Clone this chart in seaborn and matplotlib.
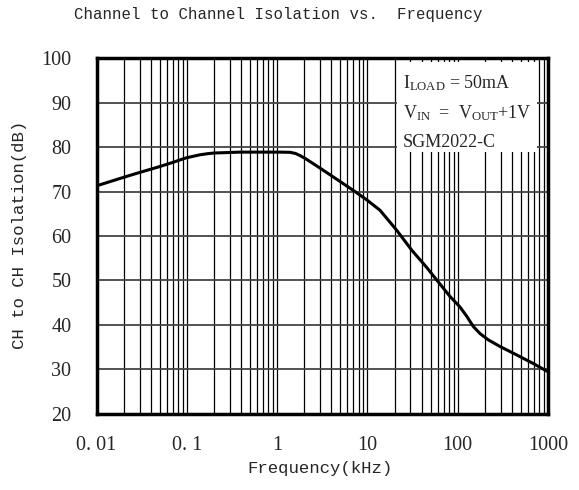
import matplotlib
matplotlib.use("Agg")
import matplotlib.pyplot as plt
import seaborn as sns
import pandas as pd
import numpy as np
from matplotlib.ticker import LogLocator, FixedLocator, NullFormatter
from matplotlib.patches import Rectangle

freq_khz = [0.01, 0.0198, 0.0298, 0.0492, 0.0703, 0.098, 0.12, 0.14, 0.17, 0.2,
            0.388, 1.08, 1.4, 1.6, 1.8, 2.04, 2.99, 4.97, 7.3, 9.9, 13.8, 21.1,
            31, 45, 58.5, 82, 106, 126, 149, 177, 218, 294, 450, 682, 1000]
isolation_db = [71.3, 73.2, 74.3, 75.6, 76.6, 77.6, 78.0, 78.3, 78.55, 78.7,
                78.9, 78.9, 78.85, 78.6, 78.1, 77.5, 75.3, 72.3, 70.0, 68.1, 65.8, 61.3,
                56.8, 53.0, 50.1, 46.4, 44.0, 41.9, 39.6, 38.0, 36.6, 35.1, 33.2, 31.3, 29.4]
x_ticks = [0.01, 0.1, 1, 10, 100, 1000]
x_ticklabels = ["0. 01", "0. 1", "1", "10", "100", "1000"]
y_ticks = [20, 30, 40, 50, 60, 70, 80, 90, 100]

sns.set_style("white")
plt.rcParams["font.family"] = ["Liberation Serif", "DejaVu Serif"]
plt.rcParams["mathtext.fontset"] = "custom"
plt.rcParams["mathtext.rm"] = "Liberation Serif"

df = pd.DataFrame({"freq": freq_khz, "iso": isolation_db})

fig = plt.figure(figsize=(5.79, 4.90), dpi=100)
ax = fig.add_axes([96.5/579, 1-413.5/490, (548-96.5)/579, (413.5-58.5)/490])

sns.lineplot(data=df, x="freq", y="iso", ax=ax, color="black", lw=2.2,
             zorder=5, legend=False)

ax.set_xscale("log")
ax.set_xlim(0.01, 1000)
ax.set_ylim(20, 100)
ax.xaxis.set_major_locator(FixedLocator(x_ticks))
ax.set_xticklabels(x_ticklabels)
ax.xaxis.set_minor_locator(LogLocator(base=10, subs=np.arange(2, 10)))
ax.xaxis.set_minor_formatter(NullFormatter())
ax.set_yticks(y_ticks)

ax.grid(True, which="major", axis="x", color="black", lw=0.9, zorder=1)
ax.grid(True, which="minor", axis="x", color="black", lw=0.9, zorder=1)
ax.grid(True, which="major", axis="y", color="#444444", lw=1.3, zorder=1)
ax.set_axisbelow(True)

ax.tick_params(axis="both", which="both", length=0, labelsize=14.5)
ax.tick_params(axis="y", pad=18)
ax.tick_params(axis="x", pad=16)

for s in ax.spines.values():
    s.set_linewidth(2.5)
    s.set_color("black")
    s.set_zorder(10)

ax.set_xlabel("")
ax.set_ylabel("")

# legend-like annotation box covering the grid
box = Rectangle((397/579, 1-152/490), (537-397)/579, (152-62)/490,
                transform=fig.transFigure, facecolor="white", edgecolor="none",
                zorder=3)
ax.add_patch(box)
box.set_clip_on(False)

tfs = 13
fig.text(403/579, 1-88/490, r"$\mathregular{I_{LOAD}}$ = 50mA", fontsize=tfs,
         va="baseline", ha="left", zorder=6)
fig.text(403/579, 1-118/490, r"$\mathregular{V_{IN}}$  =  $\mathregular{V_{OUT}}$+1V",
         fontsize=tfs, va="baseline", ha="left", zorder=6)
fig.text(403/579, 1-147/490, "SGM2022-C", fontsize=tfs, va="baseline",
         ha="left", zorder=6)

mono = ["Liberation Mono", "DejaVu Sans Mono"]
fig.text(278/579, 1-14/490, "Channel to Channel Isolation vs.  Frequency",
         fontsize=11.3, family=mono, ha="center", va="center")
fig.text(320/579, 1-468/490, "Frequency(kHz)", fontsize=12.5, family=mono,
         ha="center", va="center")
fig.text(20/579, 1-235/490, "CH to CH Isolation(dB)", fontsize=12.5, family=mono,
         ha="center", va="center", rotation=90)

fig.savefig("out.png", dpi=100, facecolor="white")
